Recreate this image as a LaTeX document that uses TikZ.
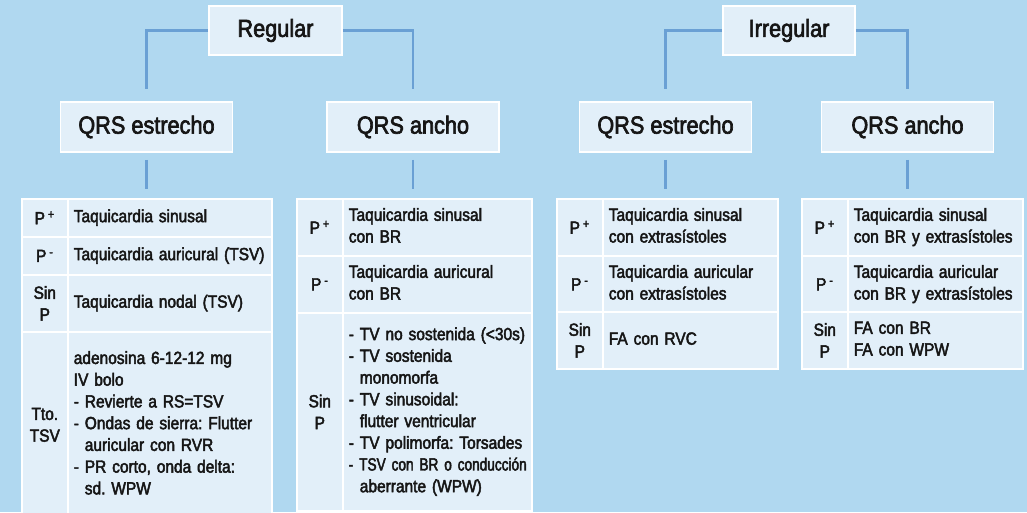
\documentclass[tikz,border=0pt]{standalone}
\usepackage{fontspec}
\setmainfont{Liberation Sans}[FakeStretch=0.88, FakeBold=2.6]
\newfontfamily\narrowfont{Liberation Sans}[FakeStretch=0.775, FakeBold=2.6]
\usetikzlibrary{positioning}
\definecolor{bgblue}{HTML}{B0D8F0}
\definecolor{boxfill}{HTML}{E2EFF9}
\definecolor{linkblue}{HTML}{6AA0D4}
\definecolor{inkgray}{HTML}{161616}
\frenchspacing
\newcommand{\headfont}{\fontsize{18.5}{22}\selectfont}
\newcommand{\cellfont}{\fontsize{13.2}{16.3}\selectfont}
\newcommand{\psup}[1]{P\,\textsuperscript{#1}}
\newcommand{\celltext}[1]{\begin{tabular}{@{}l@{}}#1\end{tabular}}

\begin{document}
\begin{tikzpicture}[
        x=0.75pt, y=-0.75pt,
        head/.style={draw=white, line width=1.2pt, fill=boxfill, minimum width=129pt, minimum height=37.5pt, text=inkgray, font=\headfont},
        lab/.style={draw=white, line width=1.2pt, fill=boxfill, anchor=north west, minimum width=34.5pt, inner sep=0pt, align=center, text=inkgray, font=\cellfont},
        txt/.style={draw=white, line width=1.2pt, fill=boxfill, anchor=north west, inner xsep=4.5pt, inner ysep=0pt, align=left, text=inkgray, font=\cellfont},
        link/.style={draw=linkblue, line width=2.2pt}
    ]
        \useasboundingbox (0,0) rectangle (1027,512);
        \fill[bgblue] (0,0) rectangle (1027,512);

        % Top level
        \node[head, minimum width=99.75pt, minimum height=36.75pt] (reg) at (275.5,30.5) {Regular};
        \node[head, minimum width=99pt, minimum height=36.75pt] (irr) at (789,30.5) {Irregular};

        % QRS width
        \node[head] (qe1) at (146.5,127) {QRS estrecho};
        \node[head] (qa1) at (413,127) {QRS ancho};
        \node[head] (qe2) at (665.5,127) {QRS estrecho};
        \node[head] (qa2) at (907.5,127) {QRS ancho};

        % Regular, QRS estrecho
        \node[lab, minimum height=28.5pt] (t1pa) at (21,198) {\psup{+}};
        \node[txt, text width=144pt, minimum height=28.5pt] (t1pb) at (67,198) {\celltext{Taquicardia sinusal}};
        \node[lab, minimum height=28.5pt] (t1ma) at (21,236) {\psup{-}};
        \node[txt, text width=144pt, minimum height=28.5pt] (t1mb) at (67,236) {\celltext{Taquicardia auricural (TSV)}};
        \node[lab, minimum height=42.75pt] (t1sa) at (21,274) {Sin\\P};
        \node[txt, text width=144pt, minimum height=42.75pt] (t1sb) at (67,274) {\celltext{Taquicardia nodal (TSV)}};
        \node[lab, minimum height=139.5pt] (t1ta) at (21,331) {Tto.\\TSV};
        \node[txt, text width=144pt, minimum height=139.5pt] (t1tb) at (67,331) {\celltext{adenosina 6-12-12 mg\\IV bolo\\- Revierte a RS=TSV\\- Ondas de sierra: Flutter\\\phantom{- }auricular con RVR\\- PR corto, onda delta:\\\phantom{- }sd. WPW}};

        % Regular, QRS ancho
        \node[lab, minimum height=42.75pt] (t2pa) at (296,198) {\psup{+}};
        \node[txt, text width=132.75pt, minimum height=42.75pt] (t2pb) at (342,198) {\celltext{Taquicardia sinusal\\con BR}};
        \node[lab, minimum height=42.75pt] (t2ma) at (296,255) {\psup{-}};
        \node[txt, text width=132.75pt, minimum height=42.75pt] (t2mb) at (342,255) {\celltext{Taquicardia auricural\\con BR}};
        \node[lab, minimum height=148.5pt] (t2sa) at (296,312) {Sin\\P};
        \node[txt, text width=132.75pt, minimum height=148.5pt] (t2sb) at (342,312) {\celltext{- TV no sostenida (<30s)\\- TV sostenida\\\phantom{- }monomorfa\\- TV sinusoidal:\\\phantom{- }flutter ventricular\\- TV polimorfa: Torsades\\{\narrowfont - TSV con BR o conducción}\\\phantom{- }aberrante (WPW)}};

        % Irregular, QRS estrecho
        \node[lab, minimum height=42.75pt] (t3pa) at (556,198) {\psup{+}};
        \node[txt, text width=122.25pt, minimum height=42.75pt] (t3pb) at (602,198) {\celltext{Taquicardia sinusal\\con extrasístoles}};
        \node[lab, minimum height=42.75pt] (t3ma) at (556,255) {\psup{-}};
        \node[txt, text width=122.25pt, minimum height=42.75pt] (t3mb) at (602,255) {\celltext{Taquicardia auricular\\con extrasístoles}};
        \node[lab, minimum height=42.75pt] (t3sa) at (556,311) {Sin\\P};
        \node[txt, text width=122.25pt, minimum height=42.75pt] (t3sb) at (602,311) {\celltext{FA con RVC}};

        % Irregular, QRS ancho
        \node[lab, minimum height=42.75pt] (t4pa) at (801,198) {\psup{+}};
        \node[txt, text width=122.25pt, minimum height=42.75pt] (t4pb) at (847,198) {\celltext{Taquicardia sinusal\\con BR y extrasístoles}};
        \node[lab, minimum height=42.75pt] (t4ma) at (801,255) {\psup{-}};
        \node[txt, text width=122.25pt, minimum height=42.75pt] (t4mb) at (847,255) {\celltext{Taquicardia auricular\\con BR y extrasístoles}};
        \node[lab, minimum height=42.75pt] (t4sa) at (801,311) {Sin\\P};
        \node[txt, text width=122.25pt, minimum height=42.75pt] (t4sb) at (847,311) {\celltext{FA con BR\\FA con WPW}};

        % Connectors
        \draw[link, shorten >=9pt] (reg.west) -| (qe1.north);
        \draw[link, shorten >=9pt] (reg.east) -| (qa1.north);
        \draw[link, shorten >=9pt] (irr.west) -| (qe2.north);
        \draw[link, shorten >=9pt] (irr.east) -| (qa2.north);
        \draw[link, shorten <=5.25pt, shorten >=6.75pt] (qe1.south) -- (qe1.south |- t1pa.north);
        \draw[link, shorten <=5.25pt, shorten >=6.75pt] (qa1.south) -- (qa1.south |- t2pa.north);
        \draw[link, shorten <=5.25pt, shorten >=6.75pt] (qe2.south) -- (qe2.south |- t3pa.north);
        \draw[link, shorten <=5.25pt, shorten >=6.75pt] (qa2.south) -- (qa2.south |- t4pa.north);
    \end{tikzpicture}
\end{document}
